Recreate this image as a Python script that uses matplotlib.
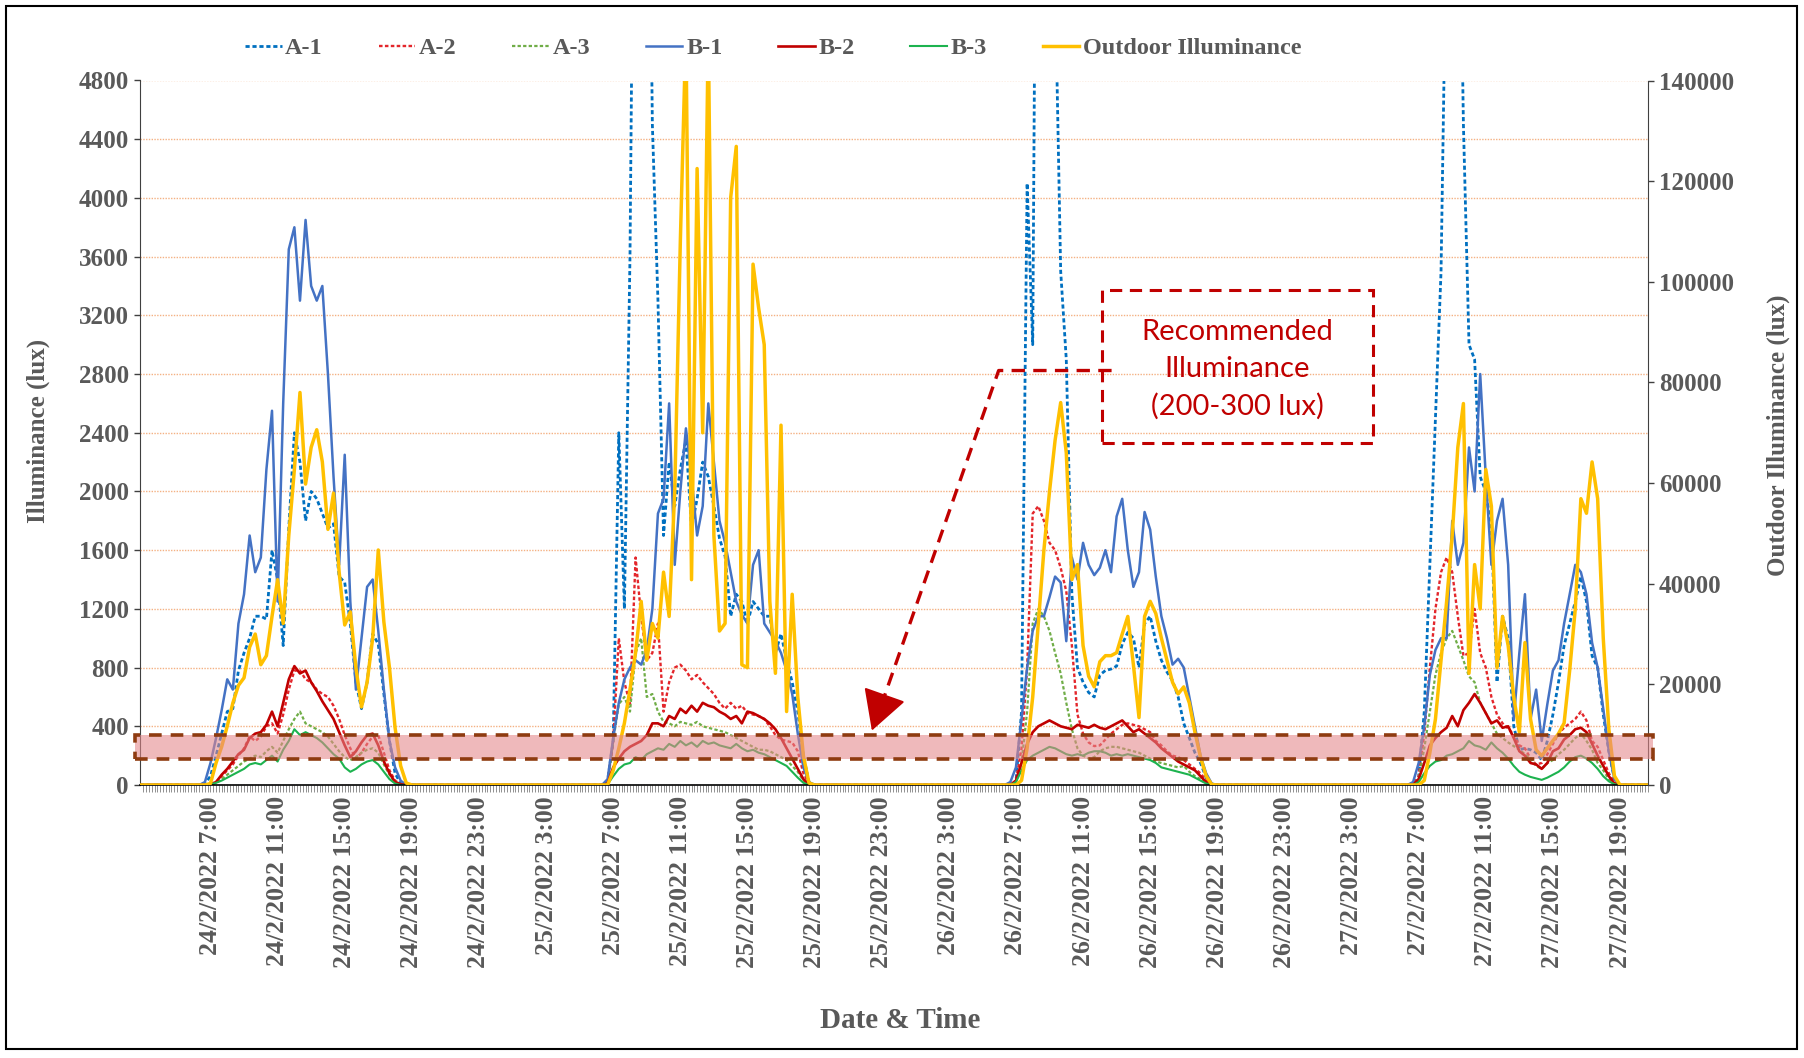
import numpy as np
import matplotlib.pyplot as plt
import matplotlib.transforms as mtransforms
from matplotlib.patches import Rectangle

plt.rcParams['font.family'] = ['Liberation Serif', 'DejaVu Serif']
plt.rcParams['font.weight'] = 'bold'

# readings every 20 min from 06:40 to 18:40, one list per day (24/2 .. 27/2), lux
slot_start = 6 + 40 / 60
slot_step = 20 / 60
x_start, x_end = 2.8, 92.65

a1 = [
    [10, 60, 200, 350, 500, 520, 780, 900, 1000, 1150, 1150, 1130, 1600, 1400, 950, 1750, 2400, 2200, 1800, 2000,
     1950, 1850, 1750, 1780, 1420, 1380, 1100, 700, 520, 700, 1030, 960, 620, 300, 80, 10, 0],
    [30, 300, 2400, 1200, 3600, 8000, 9000, 8000, 4500, 3300, 1700, 2200, 1900, 2150, 2350, 1750, 1950, 2200, 2100,
     1900, 1680, 1560, 1150, 1300, 1250, 1100, 1250, 1200, 1150, 1150, 900, 1030, 850, 700, 500, 200, 20],
    [0, 20, 500, 4100, 3000, 9000, 12000, 9000, 5500, 3500, 2900, 1300, 800, 700, 630, 600, 750, 780, 790, 810,
     960, 1040, 1000, 800, 1100, 1150, 980, 850, 770, 710, 600, 420, 320, 220, 150, 50, 5],
    [0, 50, 500, 1500, 2500, 3500, 6000, 8000, 7000, 4500, 3000, 2900, 2100, 2000, 1750, 700, 1150, 1000, 400, 240,
     250, 240, 220, 170, 300, 480, 700, 950, 1100, 1250, 1420, 1250, 880, 800, 480, 230, 40],
]
a2 = [
    [0, 5, 20, 60, 100, 140, 200, 250, 330, 300, 330, 400, 420, 350, 480, 650, 780, 780, 720, 700,
     650, 620, 600, 540, 450, 340, 250, 180, 220, 280, 330, 340, 220, 100, 30, 5, 0],
    [20, 300, 1000, 700, 550, 1550, 1150, 850, 900, 1100, 500, 700, 800, 820, 780, 720, 750, 700, 660, 620,
     560, 520, 560, 520, 540, 490, 480, 470, 450, 400, 340, 310, 300, 290, 230, 80, 10],
    [0, 30, 250, 800, 1850, 1900, 1800, 1650, 1600, 1480, 1320, 950, 480, 350, 290, 265, 270, 310, 350, 380,
     410, 420, 410, 400, 380, 360, 300, 270, 230, 200, 190, 170, 140, 110, 80, 30, 5],
    [0, 60, 350, 800, 1200, 1450, 1550, 1450, 1150, 880, 900, 1200, 900, 800, 600, 480, 420, 385, 340, 270,
     250, 180, 140, 150, 210, 280, 350, 390, 420, 450, 500, 440, 300, 260, 170, 80, 15],
]
a3 = [
    [0, 5, 15, 40, 70, 100, 130, 160, 180, 200, 190, 230, 260, 220, 300, 380, 450, 500, 420, 400,
     380, 360, 330, 280, 230, 190, 170, 190, 220, 240, 250, 220, 140, 70, 20, 5, 0],
    [10, 300, 550, 600, 500, 900, 1000, 600, 620, 500, 430, 420, 400, 430, 420, 410, 430, 400, 390, 380,
     370, 360, 340, 320, 300, 280, 260, 240, 240, 230, 210, 190, 170, 130, 90, 30, 5],
    [0, 20, 150, 500, 1100, 1200, 1150, 1050, 900, 760, 560, 380, 250, 200, 180, 190, 230, 250, 260, 260,
     250, 240, 230, 220, 200, 180, 160, 150, 140, 130, 120, 130, 90, 60, 40, 15, 0],
    [0, 40, 250, 500, 750, 900, 1000, 1050, 950, 850, 740, 700, 560, 490, 420, 350, 320, 290, 265, 240,
     210, 180, 130, 110, 150, 170, 210, 240, 280, 320, 350, 300, 240, 150, 100, 40, 5],
]
b1 = [
    [20, 150, 320, 510, 720, 650, 1100, 1300, 1700, 1450, 1550, 2150, 2550, 1250, 2600, 3650, 3800, 3300, 3850, 3400,
     3300, 3400, 2800, 2100, 1500, 2250, 1250, 650, 1000, 1350, 1400, 1050, 650, 300, 120, 30, 0],
    [40, 320, 560, 720, 800, 850, 820, 920, 1200, 1850, 1950, 2600, 1500, 2000, 2430, 2100, 1700, 1900, 2600, 2200,
     1800, 1650, 1450, 1250, 1160, 1100, 1500, 1600, 1100, 1040, 980, 900, 780, 620, 350, 120, 20],
    [20, 120, 450, 800, 1050, 1150, 1150, 1280, 1420, 1380, 980, 1550, 1400, 1650, 1500, 1430, 1480, 1600, 1450, 1830,
     1950, 1600, 1350, 1450, 1860, 1740, 1420, 1150, 1000, 820, 860, 800, 600, 400, 200, 80, 10],
    [20, 150, 400, 750, 920, 1000, 1000, 1800, 1500, 1650, 2300, 2000, 2800, 2100, 1500, 1800, 1950, 1500, 450, 900,
     1300, 450, 650, 300, 550, 780, 850, 1100, 1300, 1500, 1450, 1300, 970, 800, 520, 230, 40],
]
b2 = [
    [0, 5, 20, 70, 110, 160, 210, 240, 320, 350, 360, 410, 500, 400, 560, 720, 810, 760, 780, 700,
     640, 570, 510, 450, 360, 270, 190, 230, 290, 340, 350, 270, 160, 80, 20, 5, 0],
    [10, 120, 180, 230, 260, 280, 300, 340, 420, 420, 400, 470, 450, 520, 490, 540, 500, 560, 540, 530,
     500, 480, 450, 470, 420, 500, 490, 470, 450, 420, 380, 320, 250, 180, 110, 40, 5],
    [0, 30, 150, 280, 360, 400, 420, 440, 420, 400, 390, 380, 410, 400, 390, 410, 390, 380, 400, 420,
     440, 400, 360, 380, 350, 320, 290, 250, 220, 190, 160, 140, 120, 100, 60, 20, 0],
    [0, 40, 150, 270, 320, 360, 390, 470, 400, 510, 560, 620, 560, 490, 420, 440, 390, 400, 320, 230,
     200, 150, 140, 110, 150, 230, 250, 310, 340, 380, 390, 360, 280, 200, 130, 60, 10],
]
b3 = [
    [0, 5, 15, 30, 50, 70, 90, 110, 140, 150, 140, 170, 200, 160, 240, 300, 380, 340, 360, 340,
     320, 290, 250, 210, 180, 120, 90, 110, 140, 160, 170, 140, 90, 40, 10, 0, 0],
    [5, 60, 110, 140, 150, 190, 170, 210, 230, 250, 240, 280, 260, 300, 270, 290, 260, 300, 280, 290,
     270, 260, 250, 280, 250, 230, 240, 220, 210, 190, 170, 150, 130, 90, 50, 15, 0],
    [0, 20, 100, 170, 200, 220, 240, 260, 250, 230, 210, 200, 210, 200, 220, 230, 230, 220, 200, 210,
     200, 210, 200, 190, 180, 170, 150, 120, 110, 100, 90, 80, 70, 50, 30, 10, 0],
    [0, 20, 80, 130, 160, 170, 200, 210, 230, 250, 300, 270, 260, 240, 290, 250, 220, 180, 130, 90,
     70, 55, 45, 35, 50, 70, 90, 120, 160, 190, 200, 180, 150, 110, 60, 25, 5],
]
outdoor = [
    [0, 300, 4400, 7600, 11700, 16300, 19800, 21300, 27400, 30000, 23900, 25700, 33500, 40800, 32100, 49600,
     62700, 78000, 59800, 67100, 70600, 64200, 50800, 58000, 42300, 31800, 34400, 23300, 15500, 20400, 29200,
     46700, 32400, 23300, 11400, 3800, 400],
    [0, 2900, 7300, 12300, 19000, 26300, 36500, 24800, 32100, 29200, 42300, 33500, 58300, 108000, 150000, 40800,
     122500, 70000, 150000, 49600, 30600, 32100, 116700, 126900, 23900, 23300, 103500, 94800, 87500, 36500,
     22200, 71500, 14600, 37900, 17500, 5800, 400],
    [0, 0, 900, 7300, 17500, 32100, 46700, 58300, 68500, 76000, 66000, 40800, 43800, 27700, 21600, 19500,
     24500, 25700, 25700, 26300, 30000, 33500, 23900, 13400, 33500, 36500, 34100, 29200, 24800, 20400, 18100,
     19500, 16300, 10500, 5500, 1800, 100],
    [0, 0, 900, 6400, 13100, 24800, 36500, 49600, 67100, 75800, 22200, 43800, 35000, 62700, 55400, 23300,
     33500, 27700, 17500, 10500, 28300, 13100, 7000, 5800, 7300, 8800, 10200, 12300, 22800, 35000, 56900,
     54000, 64200, 56900, 29200, 11100, 1800],
]

band_low, band_high = 180, 340


def full_curve(days):
    # nights are zero between the daily readings
    x, y = [x_start], [0]
    for d, vals in enumerate(days):
        t0 = 24 * d + slot_start
        x += [t0 - slot_step] + [t0 + k * slot_step for k in range(len(vals))] + [t0 + len(vals) * slot_step]
        y += [0] + list(vals) + [0]
    x.append(x_end)
    y.append(0)
    return np.array(x), np.array(y)


W, H = 1804, 1058
fig = plt.figure(figsize=(W / 100, H / 100), dpi=100)
ax = fig.add_axes([140 / W, 1 - 785 / H, (1648 - 140) / W, (785 - 80.5) / H])
ax2 = ax.twinx()

grey = '#595959'
dot = (0, (1.5, 1.0))
series = [
    (a1, 'A-1', '#0070C0', dot, 2.0),
    (a2, 'A-2', '#E3262B', dot, 1.7),
    (a3, 'A-3', '#70AD47', dot, 1.6),
    (b1, 'B-1', '#4472C4', '-', 1.8),
    (b2, 'B-2', '#C00000', '-', 1.9),
    (b3, 'B-3', '#1DB34F', '-', 1.5),
]
handles = []
for data, name, col, ls, lw in series:
    xs, ys = full_curve(data)
    h, = ax.plot(xs, ys, color=col, linestyle=ls, lw=lw, label=name, dash_capstyle='butt')
    handles.append(h)
xs, ys = full_curve(outdoor)
h, = ax2.plot(xs, ys, color='#FFC000', lw=2.5, label='Outdoor Illuminance', zorder=2)
handles.append(h)

ax.set_xlim(x_start, x_end)
ax.set_ylim(0, 4800)
ax2.set_ylim(0, 140000)
ax.set_yticks(np.arange(0, 4801, 400))
ax2.set_yticks(np.arange(0, 140001, 20000))

tick_hours = list(range(7, 92, 4))
tick_labels = [f"{24 + h // 24}/2/2022 {h % 24}:00" for h in tick_hours]
ax.set_xticks(tick_hours)
ax.set_xticklabels(tick_labels, rotation=90, fontsize=18.5, color=grey)
ax.set_xticks(np.arange(3, 92.7, 1 / 6), minor=True)
ax.tick_params(axis='x', which='both', length=5, width=0.6, color='#7F7F7F', pad=3)

ax.yaxis.grid(True, color='#F4B183', linestyle=(0, (1, 1)), lw=1.0)
ax.set_axisbelow(True)
ax.tick_params(axis='y', length=4, width=1, color='#404040', labelcolor=grey, labelsize=18, pad=4)
ax2.tick_params(axis='y', length=4, width=1, color='#404040', labelcolor=grey, labelsize=18, pad=4)

for s in ['top', 'right']:
    ax.spines[s].set_visible(False)
for s in ['top', 'left', 'bottom']:
    ax2.spines[s].set_visible(False)
ax.spines['left'].set_color('#404040')
ax.spines['bottom'].set_color('black')
ax.spines['bottom'].set_linewidth(1.2)
ax2.spines['right'].set_color('#404040')

# recommended band
blend = mtransforms.blended_transform_factory(ax.transAxes, ax.transData)
ax2.add_patch(Rectangle((-0.0035, band_low), 1.007, band_high - band_low, transform=blend,
                        facecolor='#E4878A', alpha=0.58, edgecolor='none', clip_on=False, zorder=3))
ax2.add_patch(Rectangle((-0.0035, band_low), 1.007, band_high - band_low, transform=blend,
                        fill=False, edgecolor='#8E3B10', lw=2.6, linestyle=(0, (3.5, 2.5)),
                        clip_on=False, zorder=4))

# callout
red = '#C00000'
ax2.add_patch(Rectangle((60.14, 2329), 76.25 - 60.14, 3373 - 2329, transform=ax.transData,
                        fill=False, edgecolor=red, lw=2.2, linestyle=(0, (4, 2.5)), zorder=5))
ax2.text(68.2, 2830, 'Recommended\nIlluminance\n(200-300 lux)', transform=ax.transData,
         ha='center', va='center', color=red, fontsize=21, family='Lato', weight='normal',
         linespacing=1.5, zorder=5)
ax2.plot([60.7, 53.97, 46.9], [2824, 2824, 520], transform=ax.transData, color=red, lw=2.4,
         linestyle=(0, (4, 2.5)), zorder=5)
ax2.annotate('', xy=(46.36, 353), xytext=(47.0, 560), xycoords=ax.transData, textcoords=ax.transData,
             arrowprops=dict(arrowstyle='-|>,head_length=0.9,head_width=0.5', color=red, lw=1.5,
                             mutation_scale=28), zorder=6)

fig.text(38 / W, 1 - 431 / H, 'Illuminance (lux)', rotation=90, ha='center', va='center',
         fontsize=18, color=grey)
fig.text(1778 / W, 1 - 435 / H, 'Outdoor Illuminance (lux)', rotation=90, ha='center', va='center',
         fontsize=18, color=grey)
fig.text(900 / W, 1 - 1020 / H, 'Date & Time', ha='center', va='center', fontsize=21, color=grey)

fig.legend(handles, [h.get_label() for h in handles], loc='center', bbox_to_anchor=(0.4286, 1 - 48 / H),
           ncol=7, frameon=False, fontsize=17.5, handlelength=1.5, handletextpad=0.15,
           columnspacing=2.3, labelcolor=grey)

fig.add_artist(Rectangle((6 / W, 1 - 1049 / H), (1797 - 6) / W, (1049 - 6) / H, transform=fig.transFigure,
                         fill=False, edgecolor='black', lw=1.5))

fig.savefig('out.png', dpi=100)
